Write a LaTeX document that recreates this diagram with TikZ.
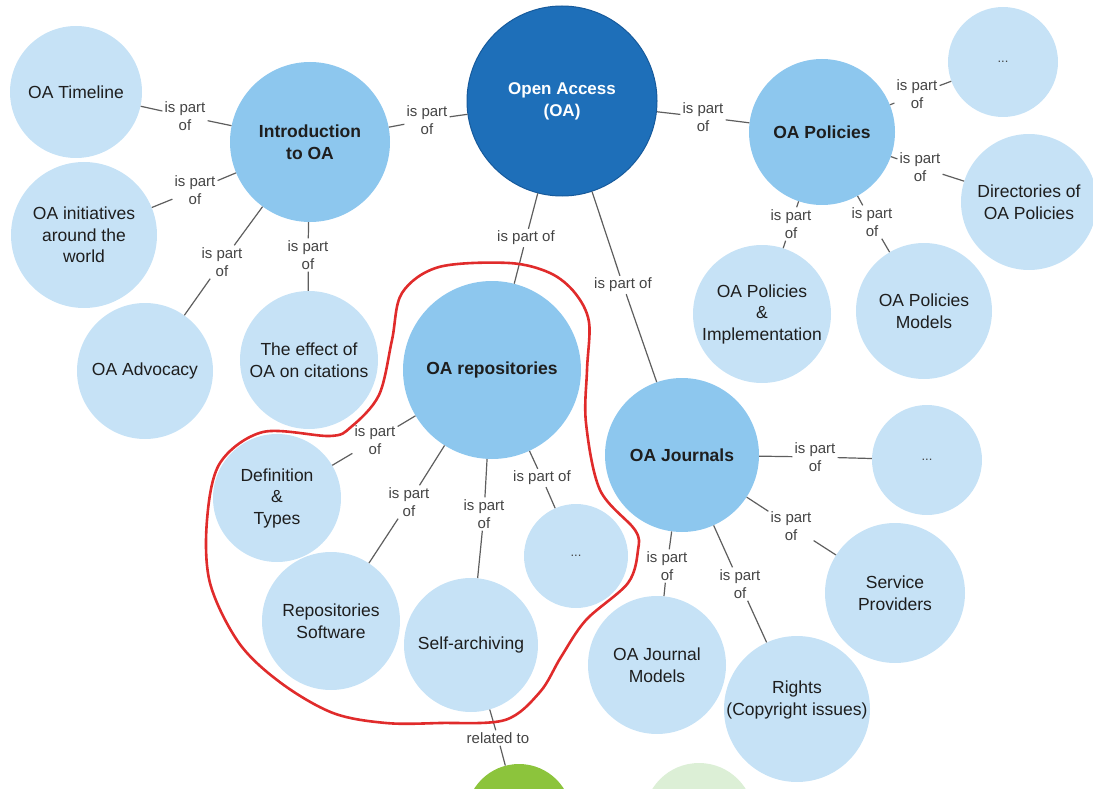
\documentclass[tikz,border=0pt]{standalone}
\usepackage{fontspec}
\setmainfont{Liberation Sans}
\definecolor{leafblue}{HTML}{C6E2F6}
\definecolor{hubblue}{HTML}{8DC7EE}
\definecolor{rootblue}{HTML}{1E6FB9}
\definecolor{rootedge}{HTML}{165A9C}
\definecolor{linkgray}{HTML}{5E5E5E}
\definecolor{labelgray}{HTML}{444444}
\definecolor{textdark}{HTML}{1E1E1E}
\definecolor{ringred}{HTML}{E02B2B}
\definecolor{leafgreen}{HTML}{8CC43C}
\definecolor{palegreen}{HTML}{DCEFD6}
\begin{document}
\begin{tikzpicture}[x=1pt,y=-1pt,
  bubble/.style={circle, inner sep=0pt, align=center, text=textdark,
    font=\fontsize{17.5}{21.5}\selectfont},
  leaf/.style={bubble, fill=leafblue},
  hub/.style={bubble, fill=hubblue, font=\fontsize{17.5}{21.5}\selectfont\bfseries},
  root/.style={bubble, fill=rootblue, draw=rootedge, line width=1pt, text=white,
    font=\fontsize{17}{22}\selectfont\bfseries},
  more/.style={leaf, font=\fontsize{13}{15}\selectfont, text=labelgray},
  rel/.style={inner sep=2pt, align=center, text=labelgray,
    font=\fontsize{15}{18}\selectfont},
  link/.style={draw=linkgray, line width=1.2pt},
  ring/.style={draw=ringred, line width=2.6pt, line join=round},
]
\useasboundingbox (0,0) rectangle (1093,789);

% circles
\node[root, minimum size=190pt] (oa) at (562,101) {Open Access\\(OA)};
\node[hub, minimum size=160pt] (intro) at (310,142) {Introduction\\to OA};
\node[leaf, minimum size=132pt] (timeline) at (76,92) {OA Timeline};
\node[leaf, minimum size=146pt] (initiatives) at (84,235) {OA initiatives\\around the\\world};
\node[leaf, minimum size=136pt] (advocacy) at (145,371) {OA Advocacy};
\node[leaf, minimum size=138pt] (effect) at (309,360) {The effect of\\OA on citations};
\node[hub, minimum size=146pt] (policies) at (822,132) {OA Policies};
\node[more, minimum size=110pt] (polmore) at (1003,62) {...};
\node[leaf, minimum size=136pt] (directories) at (1029,202) {Directories of\\OA Policies};
\node[leaf, minimum size=138pt] (implementation) at (762,314) {OA Policies\\\&\\Implementation};
\node[leaf, minimum size=136pt] (polmodels) at (924,311) {OA Policies\\Models};
\node[hub, minimum size=178pt] (repos) at (492,370) {OA repositories};
\node[hub, minimum size=154pt] (journals) at (682,455) {OA Journals};
\node[more, minimum size=110pt] (jourmore) at (927,460) {...};
\node[leaf, minimum size=140pt] (service) at (895,593) {Service\\Providers};
\node[leaf, minimum size=138pt] (jmodels) at (657,665) {OA Journal\\Models};
\node[leaf, minimum size=146pt,
  label={[bubble, shift={(0,-9)}]center:Rights\\(Copyright issues)}] (rights) at (797,709) {};
\node[leaf, minimum size=128pt] (definition) at (277,498) {Definition\\\&\\Types};
\node[leaf, minimum size=138pt] (software) at (331,621) {Repositories\\Software};
\node[leaf, minimum size=134pt] (selfarch) at (471,645) {Self-archiving};
\node[more, minimum size=104pt] (repmore) at (576,556) {...};
\node[circle, fill=leafgreen, minimum size=106pt] (greenbub) at (519,817) {};
\node[circle, fill=palegreen, minimum size=110pt] (palebub) at (699,818) {};

% relation labels
\node[rel] (r1) at (185,116) {is part\\of};
\node[rel] (r2) at (427,120) {is part\\of};
\node[rel] (r3) at (195,190) {is part\\of};
\node[rel] (r4) at (222,262) {is part\\of};
\node[rel] (r5) at (308,255) {is part\\of};
\node[rel] (r6) at (703,117) {is part\\of};
\node[rel] (r7) at (917,94) {is part\\of};
\node[rel] (r8) at (920,167) {is part\\of};
\node[rel] (r9) at (791,224) {is part\\of};
\node[rel] (r10) at (872,222) {is part\\of};
\node[rel] (r11) at (526,238) {is part of};
\node[rel] (r12) at (623,285) {is part of};
\node[rel] (r13) at (375,440) {is part\\of};
\node[rel] (r14) at (409,502) {is part\\of};
\node[rel] (r15) at (484,514) {is part\\of};
\node[rel] (r16) at (542,478) {is part of};
\node[rel] (r17) at (815,457) {is part\\of};
\node[rel] (r18) at (791,526) {is part\\of};
\node[rel] (r19) at (667,566) {is part\\of};
\node[rel] (r20) at (740,584) {is part\\of};
\node[rel] (r21) at (498,738) {related to};

% connectors
\foreach \a/\r/\b in {timeline/r1/intro, intro/r2/oa, initiatives/r3/intro,
    advocacy/r4/intro, effect/r5/intro, policies/r6/oa, polmore/r7/policies,
    directories/r8/policies, implementation/r9/policies, polmodels/r10/policies,
    repos/r11/oa, journals/r12/oa, definition/r13/repos, software/r14/repos,
    selfarch/r15/repos, repmore/r16/repos, jourmore/r17/journals,
    service/r18/journals, jmodels/r19/journals, rights/r20/journals,
    selfarch/r21/greenbub}{
  \path[link] (\a) -- (\r);
  \path[link] (\r) -- (\b);
}

% hand-drawn ring round the repositories group
\draw[ring] plot[smooth cycle, tension=0.55] coordinates {
  (439,267) (509,263) (550,273) (575,293) (589,322) (587,370) (586,423)
  (600,490) (635,530) (638,550) (628,583) (586,620) (561,657) (540,692)
  (505,720) (440,723) (386,723) (333,713) (281,683) (239,643) (210,583)
  (207,520) (220,463) (263,432) (330,436) (351,427) (379,395) (392,340)
  (402,293)};
\end{tikzpicture}
\end{document}
